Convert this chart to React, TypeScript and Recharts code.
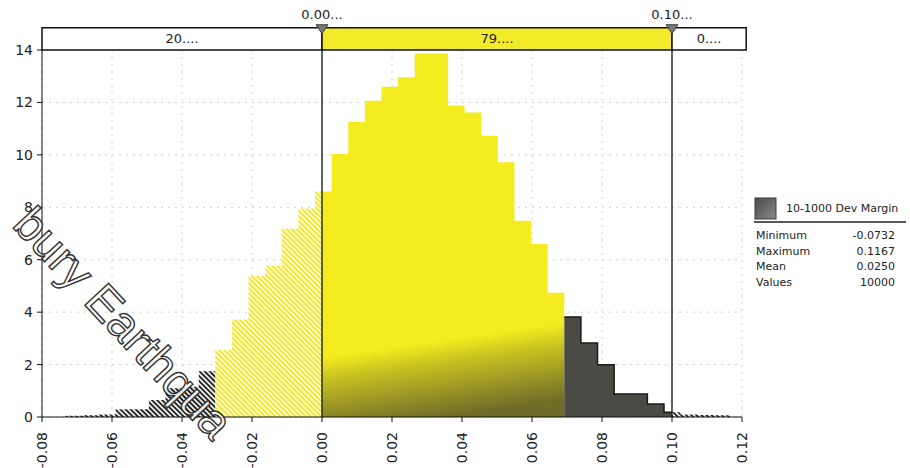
import React from 'react'
import { ComposedChart, Area, XAxis, YAxis, CartesianGrid, ReferenceArea, ReferenceLine, ReferenceDot } from 'recharts'

// histogram: 40 bins between min and max
const binMin = -0.0732
const binMax = 0.1167
const binHeights = [
  0.05, 0.07, 0.1, 0.3, 0.3, 0.65, 1.1, 1.15, 1.75, 2.56,
  3.72, 5.38, 5.76, 7.18, 7.95, 8.6, 10.03, 11.25, 12.06, 12.6,
  12.96, 13.87, 13.87, 11.87, 11.62, 10.73, 9.72, 7.49, 6.6, 4.74,
  3.81, 2.82, 1.99, 0.88, 0.88, 0.5, 0.18, 0.1, 0.08, 0.07,
]
const xTicks = [-0.08, -0.06, -0.04, -0.02, 0, 0.02, 0.04, 0.06, 0.08, 0.1, 0.12]
const yTicks = [0, 2, 4, 6, 8, 10, 12, 14]
const limits = [0, 0.1]
const limitLabels = ['0.00...', '0.10...']
const bandLabels = ['20....', '79....', '0....']
const seriesName = '10-1000 Dev Margin'
const statNames = ['Minimum', 'Maximum', 'Mean', 'Values']
const statValues = ['-0.0732', '0.1167', '0.0250', '10000']
const watermark = 'bury Earthqua'

// bins drawn with black hatching on the left / solid grey on the right
const darkHatchBins = 9
const darkSolidFrom = 30

const binW = (binMax - binMin) / binHeights.length
const edge = (i: number) => binMin + i * binW
const heightAt = (x: number, end: boolean) => {
  const i = Math.floor((x - binMin) / binW + (end ? -1e-7 : 1e-7))
  return binHeights[Math.max(0, Math.min(binHeights.length - 1, i))]
}

const segments: [string, number, number][] = [
  ['leftDark', edge(0), edge(darkHatchBins)],
  ['leftYellow', edge(darkHatchBins), limits[0]],
  ['midYellow', limits[0], edge(darkSolidFrom)],
  ['midDark', edge(darkSolidFrom), limits[1]],
  ['right', limits[1], binMax],
]

const rowMap = new Map<string, any>()
const put = (x: number, key: string, v: number) => {
  const k = x.toFixed(8)
  const r = rowMap.get(k) ?? { x }
  r[key] = v
  rowMap.set(k, r)
}
segments.forEach(([key, a, b]) => {
  put(a, key, heightAt(a, false))
  for (let i = 0; i <= binHeights.length; i++) {
    const e = edge(i)
    if (e > a + 1e-9 && e < b - 1e-9) put(e, key, heightAt(e, false))
  }
  put(b, key, heightAt(b, true))
})
const rows = [...rowMap.values()].sort((p, q) => p.x - q.x)

const XTick = (props: any) => {
  const { x, y, payload } = props
  return (
    <text x={x} y={y} transform={`rotate(-90 ${x} ${y})`} dx={-8} dy="0.36em" textAnchor="end" fontSize={14} fill="#222">
      {Number(payload.value).toFixed(2)}
    </text>
  )
}

const marker = (label: string) => (props: any) => {
  const { cx, cy } = props
  return (
    <g>
      <path d={`M${cx - 6},${cy - 3} L${cx + 6},${cy - 3} L${cx},${cy + 6} Z`} fill="#777" stroke="#444" strokeWidth={1} />
      <text x={cx} y={cy - 9} textAnchor="middle" fontSize={13} fill="#222">{label}</text>
    </g>
  )
}

export default function App() {
  const bandX = [[-0.08, limits[0]], [limits[0], limits[1]], [limits[1], 0.1212]]
  const bandFill = ['#fff', '#f3eb2a', '#fff']
  return (
    <div style={{ position: 'absolute', left: 0, top: 0, width: 910, height: 468, background: '#fff', fontFamily: '"DejaVu Sans", Verdana, sans-serif' }}>
      <ComposedChart width={910} height={468} data={rows} margin={{ top: 50, right: 168, bottom: 0, left: 0 }}>
        <defs>
          <pattern id="hatchYellow" patternUnits="userSpaceOnUse" width={3.6} height={3.6} patternTransform="rotate(-45)">
            <rect width={3.6} height={3.6} fill="#fffbe0" />
            <rect width={1.9} height={3.6} fill="#f0e62a" />
          </pattern>
          <pattern id="hatchDark" patternUnits="userSpaceOnUse" width={3.6} height={3.6} patternTransform="rotate(-45)">
            <rect width={3.6} height={3.6} fill="#f4f4f0" />
            <rect width={1.9} height={3.6} fill="#222" />
          </pattern>
          <linearGradient id="shadeMid" x1={0.07} y1={0.83} x2={0.09} y2={1.04}>
            <stop offset="0" stopColor="#3c3a2c" stopOpacity={0} />
            <stop offset="0.3" stopColor="#3c3a2c" stopOpacity={0.25} />
            <stop offset="1" stopColor="#3c3a2c" stopOpacity={0.72} />
          </linearGradient>
        </defs>
        <CartesianGrid stroke="#cfcfcf" strokeDasharray="2 5" />
        <XAxis type="number" dataKey="x" domain={[-0.08, 0.12]} ticks={xTicks} interval={0} height={51} tick={<XTick />} tickSize={5} axisLine={{ stroke: '#111' }} tickLine={{ stroke: '#111' }} allowDataOverflow />
        <YAxis type="number" domain={[0, 14]} ticks={yTicks} interval={0} width={42} tickSize={5} tickMargin={4} tick={{ fontSize: 14, fill: '#222' }} axisLine={{ stroke: '#111' }} tickLine={{ stroke: '#111' }} />

        <Area dataKey="leftDark" type="stepAfter" fill="url(#hatchDark)" fillOpacity={1} stroke="none" dot={false} activeDot={false} isAnimationActive={false} />
        <Area dataKey="leftYellow" type="stepAfter" fill="url(#hatchYellow)" fillOpacity={1} stroke="none" dot={false} activeDot={false} isAnimationActive={false} />
        <Area dataKey="midYellow" type="stepAfter" fill="#f4ec1e" fillOpacity={1} stroke="none" dot={false} activeDot={false} isAnimationActive={false} />
        <Area key="shade" dataKey="midYellow" type="stepAfter" fill="url(#shadeMid)" fillOpacity={1} stroke="none" dot={false} activeDot={false} isAnimationActive={false} />
        <Area dataKey="midDark" type="stepAfter" fill="#4b4a45" fillOpacity={1} stroke="#1a1a1a" strokeWidth={1.5} dot={false} activeDot={false} isAnimationActive={false} />
        <Area dataKey="right" type="stepAfter" fill="url(#hatchDark)" fillOpacity={1} stroke="none" dot={false} activeDot={false} isAnimationActive={false} />

        {bandX.map(([a, b], i) => (
          <ReferenceArea key={'band' + i} x1={a} x2={b} y1={14} y2={14.85} ifOverflow="visible" fill={bandFill[i]} fillOpacity={1} stroke="#111" strokeWidth={1.5}
            label={{ value: bandLabels[i], position: 'center', fontSize: 13, fill: '#222' }} />
        ))}
        {limits.map((v, i) => (
          <ReferenceLine key={'line' + i} x={v} stroke="#222" strokeWidth={1.4} />
        ))}
        {limits.map((v, i) => (
          <ReferenceDot key={'dot' + i} x={v} y={14.85} r={6} ifOverflow="visible" shape={marker(limitLabels[i])} />
        ))}
      </ComposedChart>

      <svg width={910} height={468} style={{ position: 'absolute', left: 0, top: 0, pointerEvents: 'none' }}>
        <defs>
          <linearGradient id="swatch" x1={0} y1={0} x2={1} y2={1}>
            <stop offset="0" stopColor="#4a4a4a" />
            <stop offset="1" stopColor="#8c8a8a" />
          </linearGradient>
        </defs>
        <rect x={755} y={198} width={21} height={21} fill="url(#swatch)" stroke="#3a3a3a" />
        <text x={786} y={212} fontSize={11} fill="#222">{seriesName}</text>
        <line x1={754} x2={906} y1={222} y2={222} stroke="#222" strokeWidth={1.6} />
        {statNames.map((n, i) => (
          <g key={n}>
            <text x={756} y={239 + i * 15.5} fontSize={11} fill="#222">{n}</text>
            <text x={895} y={239 + i * 15.5} fontSize={11} fill="#222" textAnchor="end">{statValues[i]}</text>
          </g>
        ))}
        <text x={11} y={226} transform="rotate(47 11 226)" fontFamily="'Liberation Sans', Arial, sans-serif" fontSize={47} fill="#fff" fillOpacity={0.9} stroke="#333" strokeWidth={1.4}>
          {watermark}
        </text>
      </svg>
    </div>
  )
}
